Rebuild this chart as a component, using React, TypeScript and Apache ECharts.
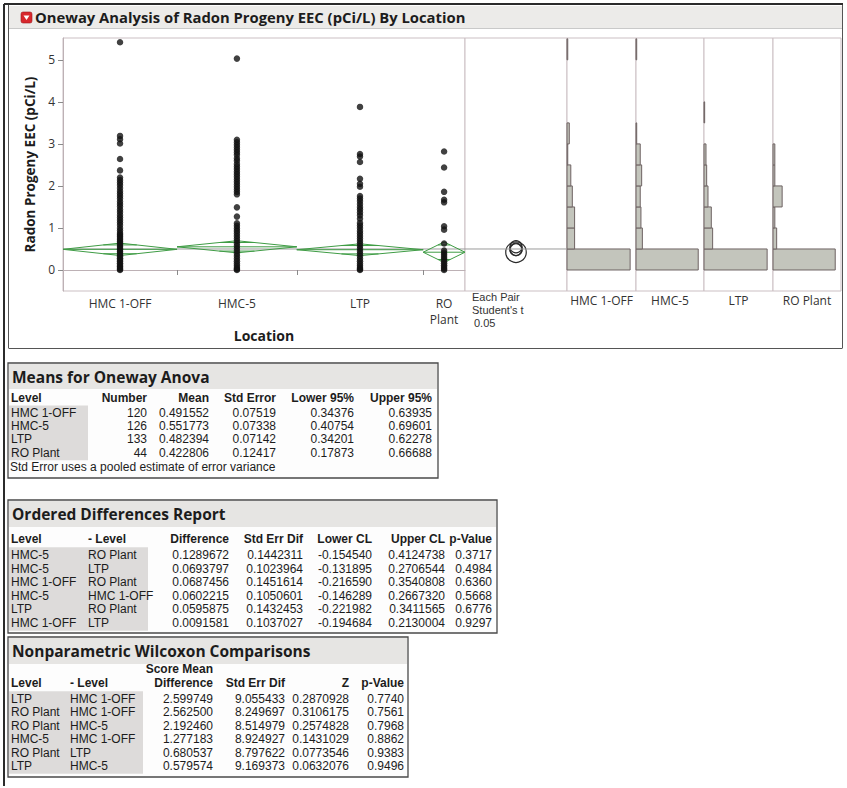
import React, { useEffect, useRef } from 'react';
import * as echarts from 'echarts';

// ---------- data ----------
const levels = ['HMC 1-OFF', 'HMC-5', 'LTP', 'RO Plant'];
const axisLabels = ['HMC 1-OFF', 'HMC-5', 'LTP', 'RO\nPlant'];
const counts = [120, 126, 133, 44];
const means = [0.491552, 0.551773, 0.482394, 0.422806];
const stdErrs = [0.07519, 0.07338, 0.07142, 0.12417];
const lower95 = [0.34376, 0.40754, 0.34201, 0.17873];
const upper95 = [0.63935, 0.69601, 0.62278, 0.66688];

const yTicks = [0, 1, 2, 3, 4, 5];

// observed values (read from the dot columns)
const hmc1offPoints = [5.42, 3.19, 3.11, 3.01, 2.64, 2.37, 2.2, 2.14, 2.08, 2.02, 1.95, 1.88, 1.82, 1.76, 1.7, 1.63, 1.57, 1.51, 1.44, 1.38, 1.31, 1.25, 1.19, 1.13, 1.07, 1.0, 0.94, 0.88, 0.84, 0.8, 0.76, 0.72, 0.68, 0.64, 0.6, 0.56, 0.52, 0.48, 0.44, 0.4, 0.36, 0.32, 0.28, 0.24, 0.2, 0.16, 0.12, 0.08, 0.05, 0.02, 0.0];
const hmc5Points = [5.03, 3.1, 3.04, 2.98, 2.92, 2.86, 2.8, 2.74, 2.66, 2.6, 2.52, 2.46, 2.4, 2.34, 2.28, 2.22, 2.16, 2.1, 2.04, 1.98, 1.92, 1.86, 1.8, 1.49, 1.27, 1.11, 1.05, 0.99, 0.93, 0.87, 0.81, 0.75, 0.69, 0.63, 0.57, 0.51, 0.45, 0.39, 0.33, 0.27, 0.21, 0.15, 0.1, 0.05, 0.02, 0.0];
const ltpPoints = [3.88, 2.76, 2.7, 2.57, 2.17, 2.05, 1.98, 1.76, 1.7, 1.64, 1.57, 1.5, 1.44, 1.37, 1.3, 1.22, 1.12, 1.06, 1.0, 0.93, 0.87, 0.81, 0.75, 0.69, 0.63, 0.57, 0.51, 0.45, 0.39, 0.33, 0.27, 0.21, 0.15, 0.1, 0.05, 0.02, 0.0];
const roPlantPoints = [2.82, 2.44, 1.86, 1.67, 1.61, 1.04, 0.96, 0.63, 0.46, 0.41, 0.36, 0.31, 0.26, 0.21, 0.16, 0.11, 0.07, 0.03, 0.0];

// histogram bins (width 0.5) and counts per level
const histEdges = [0, 0.5, 1, 1.5, 2, 2.5, 3, 3.5, 4, 4.5, 5, 5.5];
const hmc1offHist = [83, 10, 10, 7, 5, 1, 3, 0, 0, 0, 1];
const hmc5Hist = [88, 9, 7, 6, 8, 6, 1, 0, 0, 0, 1];
const ltpHist = [95, 13, 11, 6, 4, 3, 0, 1, 0, 0, 0];
const roPlantHist = [34, 2, 1, 5, 1, 1, 0, 0, 0, 0, 0];

// Ordered differences report
const odLevel = ['HMC-5', 'HMC-5', 'HMC 1-OFF', 'HMC-5', 'LTP', 'HMC 1-OFF'];
const odMinusLevel = ['RO Plant', 'LTP', 'RO Plant', 'HMC 1-OFF', 'RO Plant', 'LTP'];
const odDiff = [0.1289672, 0.0693797, 0.0687456, 0.0602215, 0.0595875, 0.0091581];
const odStdErr = [0.1442311, 0.1023964, 0.1451614, 0.1050601, 0.1432453, 0.1037027];
const odLowerCL = [-0.15454, -0.131895, -0.21659, -0.146289, -0.221982, -0.194684];
const odUpperCL = [0.4124738, 0.2706544, 0.3540808, 0.266732, 0.3411565, 0.2130004];
const odP = [0.3717, 0.4984, 0.636, 0.5668, 0.6776, 0.9297];

// Wilcoxon comparisons
const wxLevel = ['LTP', 'RO Plant', 'RO Plant', 'HMC-5', 'RO Plant', 'LTP'];
const wxMinusLevel = ['HMC 1-OFF', 'HMC 1-OFF', 'HMC-5', 'HMC 1-OFF', 'LTP', 'HMC-5'];
const wxScoreDiff = [2.599749, 2.5625, 2.19246, 1.277183, 0.680537, 0.579574];
const wxStdErr = [9.055433, 8.249697, 8.514979, 8.924927, 8.797622, 9.169373];
const wxZ = [0.2870928, 0.3106175, 0.2574828, 0.1431029, 0.0773546, 0.0632076];
const wxP = [0.774, 0.7561, 0.7968, 0.8862, 0.9383, 0.9496];

// ---------- styling ----------
const FONT = '"Open Sans", "Noto Sans", "DejaVu Sans", sans-serif';
const TFONT = '"Liberation Sans", Arial, sans-serif';
const INK = '#1c1c1c';
const FRAME = '#cbbfc3';
const GREEN = '#3f9c45';
const Y_MIN = -0.5;
const Y_MAX = 5.52;

function txt(x: number, y: number, text: string, size: number, weight: string, align: string, fill = INK, family = FONT) {
  return {
    type: 'text',
    x,
    y,
    silent: true,
    style: {
      text,
      font: `${weight} ${size}px ${family}`,
      fill,
      align,
      verticalAlign: 'middle',
      textAlign: align,
      textVerticalAlign: 'middle',
    },
  };
}
function line(x1: number, y1: number, x2: number, y2: number, stroke: string, lw: number) {
  return { type: 'line', silent: true, shape: { x1, y1, x2, y2 }, style: { stroke, lineWidth: lw } };
}
function rect(x: number, y: number, w: number, h: number, fill: string, stroke?: string, lw = 1) {
  return {
    type: 'rect',
    silent: true,
    shape: { x, y, width: w, height: h },
    style: { fill, stroke: stroke || 'none', lineWidth: lw },
  };
}

type Col = { x: number; align: string };

function table(opts: {
  left: number;
  right: number;
  top: number;
  bottom: number;
  title: string;
  titleY: number;
  titleBarH: number;
  headerY: number;
  preHeader?: { col: number; text: string; y: number };
  headers: string[];
  cols: Col[];
  rows: string[][];
  rowY0: number;
  rowStep: number;
  shadeRight: number;
  footer?: { text: string; y: number };
}) {
  const els: any[] = [];
  const { left, right, top, bottom } = opts;
  els.push(rect(left, top, right - left, bottom - top, '#fdfdfd'));
  els.push(rect(left + 1, top + 1, right - left - 2, opts.titleBarH, '#e6e5e3'));
  const shadeTop = opts.rowY0 - opts.rowStep / 2 - 1;
  const shadeH = opts.rowStep * opts.rows.length + 2;
  els.push(rect(left + 1, shadeTop, opts.shadeRight - left - 1, shadeH, '#dddbda'));
  els.push(rect(left, top, right - left, bottom - top, 'none', '#4a4a4a', 1.3));
  els.push(txt(left + 4, opts.titleY, opts.title, 15.5, 'bold', 'left'));
  if (opts.preHeader) {
    const c = opts.cols[opts.preHeader.col];
    els.push(txt(c.x, opts.preHeader.y, opts.preHeader.text, 12, 'bold', c.align, INK, TFONT));
  }
  opts.headers.forEach((h, i) => {
    const c = opts.cols[i];
    els.push(txt(c.x, opts.headerY, h, 12, 'bold', c.align, INK, TFONT));
  });
  opts.rows.forEach((r, ri) => {
    r.forEach((cell, ci) => {
      const c = opts.cols[ci];
      els.push(txt(c.x, opts.rowY0 + ri * opts.rowStep, cell, 12, 'normal', c.align, INK, TFONT));
    });
  });
  if (opts.footer) els.push(txt(left + 2, opts.footer.y, opts.footer.text, 12, 'normal', 'left', INK, TFONT));
  return els;
}

function buildOption() {
  const totalN = counts.reduce((a, b) => a + b, 0);
  const starts: number[] = [];
  let acc = 0;
  counts.forEach((c) => {
    starts.push(acc);
    acc += c;
  });
  const centers = starts.map((s, i) => s + counts[i] / 2);
  const bounds = starts.slice(1);
  const grandMean = counts.reduce((s, c, i) => s + c * means[i], 0) / totalN;

  const pointGroups = [hmc1offPoints, hmc5Points, ltpPoints, roPlantPoints];
  const scatterData = pointGroups.flatMap((arr, i) => arr.map((v) => [centers[i], v]));
  const diamondData = levels.map((_, i) => [starts[i], starts[i] + counts[i], means[i], lower95[i], upper95[i]]);
  const circleData = levels.map((_, i) => [0.5, means[i], upper95[i] - means[i]]);
  const histGroups = [hmc1offHist, hmc5Hist, ltpHist, roPlantHist];

  const gridBoxes = [
    { left: 63, top: 38, width: 402, height: 253 },
    { left: 465, top: 38, width: 102, height: 253 },
    { left: 567, top: 38, width: 69, height: 253 },
    { left: 636, top: 38, width: 68, height: 253 },
    { left: 704, top: 38, width: 69, height: 253 },
    { left: 773, top: 38, width: 68, height: 253 },
  ];
  const grid = gridBoxes.map((g) => ({
    ...g,
    show: true,
    borderColor: FRAME,
    borderWidth: 1,
    backgroundColor: '#ffffff',
  }));

  const yAxis: any[] = gridBoxes.map((_, i) => ({
    gridIndex: i,
    type: 'value',
    min: Y_MIN,
    max: Y_MAX,
    show: i === 0,
    splitLine: { show: false },
    axisLine: { show: i === 0, lineStyle: { color: '#bdb1b5' } },
    axisTick: { show: i === 0, customValues: yTicks, length: 5, lineStyle: { color: '#8a8a8a' } },
    axisLabel: {
      show: i === 0,
      customValues: yTicks,
      margin: 8,
      fontSize: 12,
      fontFamily: FONT,
      color: '#333',
    },
    name: i === 0 ? 'Radon Progeny EEC (pCi/L)' : '',
    nameLocation: 'middle',
    nameGap: 26,
    nameTextStyle: { fontFamily: FONT, fontWeight: 'bold', fontSize: 13.5, color: INK },
  }));

  const xAxis: any[] = [
    {
      gridIndex: 0,
      type: 'value',
      min: 0,
      max: totalN,
      splitLine: { show: false },
      axisLine: { show: true, lineStyle: { color: '#bdb1b5' } },
      axisTick: { show: true, customValues: bounds, length: 5, lineStyle: { color: '#8a8a8a' } },
      axisLabel: {
        customValues: centers,
        margin: 4,
        fontSize: 12,
        lineHeight: 16,
        fontFamily: FONT,
        color: '#333',
        formatter: (v: number) => {
          const k = centers.findIndex((c) => Math.abs(c - v) < 0.01);
          return k >= 0 ? axisLabels[k] : '';
        },
      },
      name: 'Location',
      nameLocation: 'middle',
      nameGap: 37,
      nameTextStyle: { fontFamily: FONT, fontWeight: 'bold', fontSize: 14, color: INK },
    },
    { gridIndex: 1, type: 'value', min: 0, max: 1, show: false },
  ];
  histGroups.forEach((h, i) => {
    xAxis.push({
      gridIndex: 2 + i,
      type: 'value',
      min: 0,
      max: Math.max(...h) / 0.915,
      show: true,
      splitLine: { show: false },
      axisLine: { show: false },
      axisTick: { show: false },
      axisLabel: { show: false },
      name: levels[i],
      nameLocation: 'middle',
      nameGap: 3,
      nameTextStyle: { fontFamily: FONT, fontSize: 12, color: '#333', verticalAlign: 'top' },
    });
  });

  const series: any[] = [
    {
      type: 'line',
      xAxisIndex: 0,
      yAxisIndex: 0,
      data: [
        [0, grandMean],
        [totalN, grandMean],
      ],
      symbol: 'none',
      silent: true,
      lineStyle: { color: '#9a9a9a', width: 1 },
      z: 1,
    },
    {
      type: 'custom',
      xAxisIndex: 0,
      yAxisIndex: 0,
      data: diamondData,
      encode: { x: 0, y: 2 },
      silent: true,
      z: 2,
      renderItem: (params: any, api: any) => {
        const l = api.value(0);
        const r = api.value(1);
        const m = api.value(2);
        const lo = api.value(3);
        const up = api.value(4);
        const c = (l + r) / 2;
        const pL = api.coord([l, m]);
        const pR = api.coord([r, m]);
        const pT = api.coord([c, up]);
        const pB = api.coord([c, lo]);
        const f = 1 / Math.SQRT2;
        const half = ((r - l) / 2) * (1 - f);
        const oU = m + (up - m) * f;
        const oL = m - (m - lo) * f;
        const u1 = api.coord([c - half, oU]);
        const u2 = api.coord([c + half, oU]);
        const b1 = api.coord([c - half, oL]);
        const b2 = api.coord([c + half, oL]);
        const st = { stroke: GREEN, lineWidth: 1, fill: 'none' };
        return {
          type: 'group',
          children: [
            { type: 'polygon', shape: { points: [pL, pT, pR, pB] }, style: st },
            { type: 'line', shape: { x1: pL[0], y1: pL[1], x2: pR[0], y2: pR[1] }, style: st },
            { type: 'line', shape: { x1: u1[0], y1: u1[1], x2: u2[0], y2: u2[1] }, style: st },
            { type: 'line', shape: { x1: b1[0], y1: b1[1], x2: b2[0], y2: b2[1] }, style: st },
          ],
        };
      },
    },
    {
      type: 'scatter',
      xAxisIndex: 0,
      yAxisIndex: 0,
      data: scatterData,
      symbolSize: 6.5,
      silent: true,
      itemStyle: { color: '#111' },
      z: 3,
    },
    {
      type: 'line',
      xAxisIndex: 1,
      yAxisIndex: 1,
      data: [
        [0, grandMean],
        [1, grandMean],
      ],
      symbol: 'none',
      silent: true,
      lineStyle: { color: '#9a9a9a', width: 1 },
    },
    {
      type: 'custom',
      xAxisIndex: 1,
      yAxisIndex: 1,
      data: circleData,
      encode: { x: 0, y: 1 },
      silent: true,
      renderItem: (params: any, api: any) => {
        const c = api.coord([api.value(0), api.value(1)]);
        const r = api.size([0, api.value(2)])[1];
        return {
          type: 'circle',
          shape: { cx: c[0], cy: c[1], r },
          style: { fill: 'none', stroke: '#2a2a2a', lineWidth: 1.2 },
        };
      },
    },
  ];
  histGroups.forEach((h, i) => {
    const data = h
      .map((c, j) => [histEdges[j], histEdges[j + 1], c])
      .filter((d) => d[2] > 0);
    series.push({
      type: 'custom',
      xAxisIndex: 2 + i,
      yAxisIndex: 2 + i,
      data,
      encode: { x: 2, y: 0 },
      silent: true,
      renderItem: (params: any, api: any) => {
        const lo = api.value(0);
        const hi = api.value(1);
        const c = api.value(2);
        const p1 = api.coord([0, hi]);
        const p2 = api.coord([c, lo]);
        return {
          type: 'rect',
          shape: { x: p1[0], y: p1[1], width: Math.max(p2[0] - p1[0], 0.6), height: p2[1] - p1[1] },
          style: { fill: '#c3c5bc', stroke: '#6e6363', lineWidth: 1 },
        };
      },
    });
  });

  // ---------- graphic: frames, title, tables ----------
  const g: any[] = [];
  g.push(rect(9, 6, 833, 22, '#ecebe9'));
  g.push(line(9, 28.5, 842, 28.5, '#c9c9c9', 1));
  g.push(line(4, 4, 843, 4, '#2b2b2b', 2));
  g.push(line(4, 4, 4, 786, '#2b2b2b', 2));
  g.push(line(8.5, 5, 8.5, 348, '#555', 1));
  g.push(line(842.5, 5, 842.5, 348, '#555', 1));
  g.push(line(8.5, 348.5, 842.5, 348.5, '#555', 1));
  g.push({
    type: 'rect',
    silent: true,
    shape: { x: 21, y: 12, width: 11, height: 11, r: 2 },
    style: { fill: '#d8282d', stroke: '#a01a1e', lineWidth: 0.6 },
  });
  g.push({
    type: 'polygon',
    silent: true,
    shape: { points: [[23.5, 15.5], [29.5, 15.5], [26.5, 20]] },
    style: { fill: '#ffffff' },
  });
  g.push(txt(35, 17, 'Oneway Analysis of Radon Progeny EEC (pCi/L) By Location', 14.8, 'bold', 'left'));
  g.push(txt(472, 297, 'Each Pair', 11, 'normal', 'left', '#333', TFONT));
  g.push(txt(472, 310, "Student's t", 11, 'normal', 'left', '#333', TFONT));
  g.push(txt(474, 323, '0.05', 11, 'normal', 'left', '#333', TFONT));

  const meansRows = levels.map((lv, i) => [
    lv,
    String(counts[i]),
    means[i].toFixed(6),
    stdErrs[i].toFixed(5),
    lower95[i].toFixed(5),
    upper95[i].toFixed(5),
  ]);
  g.push(
    ...table({
      left: 8,
      right: 438,
      top: 363,
      bottom: 478,
      title: 'Means for Oneway Anova',
      titleY: 377,
      titleBarH: 25,
      headerY: 398,
      headers: ['Level', 'Number', 'Mean', 'Std Error', 'Lower 95%', 'Upper 95%'],
      cols: [
        { x: 11, align: 'left' },
        { x: 147, align: 'right' },
        { x: 209, align: 'right' },
        { x: 276, align: 'right' },
        { x: 354, align: 'right' },
        { x: 432, align: 'right' },
      ],
      rows: meansRows,
      rowY0: 413,
      rowStep: 13.2,
      shadeRight: 88,
      footer: { text: 'Std Error uses a pooled estimate of error variance', y: 467 },
    })
  );

  const odRows = odLevel.map((lv, i) => [
    lv,
    odMinusLevel[i],
    odDiff[i].toFixed(7),
    odStdErr[i].toFixed(7),
    odLowerCL[i].toFixed(6),
    odUpperCL[i].toFixed(7),
    odP[i].toFixed(4),
  ]);
  g.push(
    ...table({
      left: 8,
      right: 497,
      top: 500,
      bottom: 633,
      title: 'Ordered Differences Report',
      titleY: 514,
      titleBarH: 26,
      headerY: 539,
      headers: ['Level', '- Level', 'Difference', 'Std Err Dif', 'Lower CL', 'Upper CL', 'p-Value'],
      cols: [
        { x: 11, align: 'left' },
        { x: 88, align: 'left' },
        { x: 229, align: 'right' },
        { x: 303, align: 'right' },
        { x: 372, align: 'right' },
        { x: 445, align: 'right' },
        { x: 492, align: 'right' },
      ],
      rows: odRows,
      rowY0: 555,
      rowStep: 13.6,
      shadeRight: 148,
    })
  );

  const wxRows = wxLevel.map((lv, i) => [
    lv,
    wxMinusLevel[i],
    wxScoreDiff[i].toFixed(6),
    wxStdErr[i].toFixed(6),
    wxZ[i].toFixed(7),
    wxP[i].toFixed(4),
  ]);
  g.push(
    ...table({
      left: 8,
      right: 408,
      top: 637,
      bottom: 777,
      title: 'Nonparametric Wilcoxon Comparisons',
      titleY: 651,
      titleBarH: 26,
      headerY: 683,
      preHeader: { col: 2, text: 'Score Mean', y: 669 },
      headers: ['Level', '- Level', 'Difference', 'Std Err Dif', 'Z', 'p-Value'],
      cols: [
        { x: 11, align: 'left' },
        { x: 70, align: 'left' },
        { x: 213, align: 'right' },
        { x: 285, align: 'right' },
        { x: 349, align: 'right' },
        { x: 404, align: 'right' },
      ],
      rows: wxRows,
      rowY0: 699,
      rowStep: 13.4,
      shadeRight: 143,
    })
  );

  return {
    animation: false,
    backgroundColor: '#ffffff',
    textStyle: { fontFamily: FONT },
    grid,
    xAxis,
    yAxis,
    series,
    graphic: { elements: g },
  };
}

export default function App() {
  const ref = useRef<HTMLDivElement>(null);
  useEffect(() => {
    document.body.style.margin = '0';
    const chart = echarts.init(ref.current as HTMLDivElement, null, { renderer: 'svg' });
    chart.setOption(buildOption() as any);
    return () => chart.dispose();
  }, []);
  return <div ref={ref} style={{ width: 847, height: 788, position: 'absolute', left: 0, top: 0 }} />;
}
